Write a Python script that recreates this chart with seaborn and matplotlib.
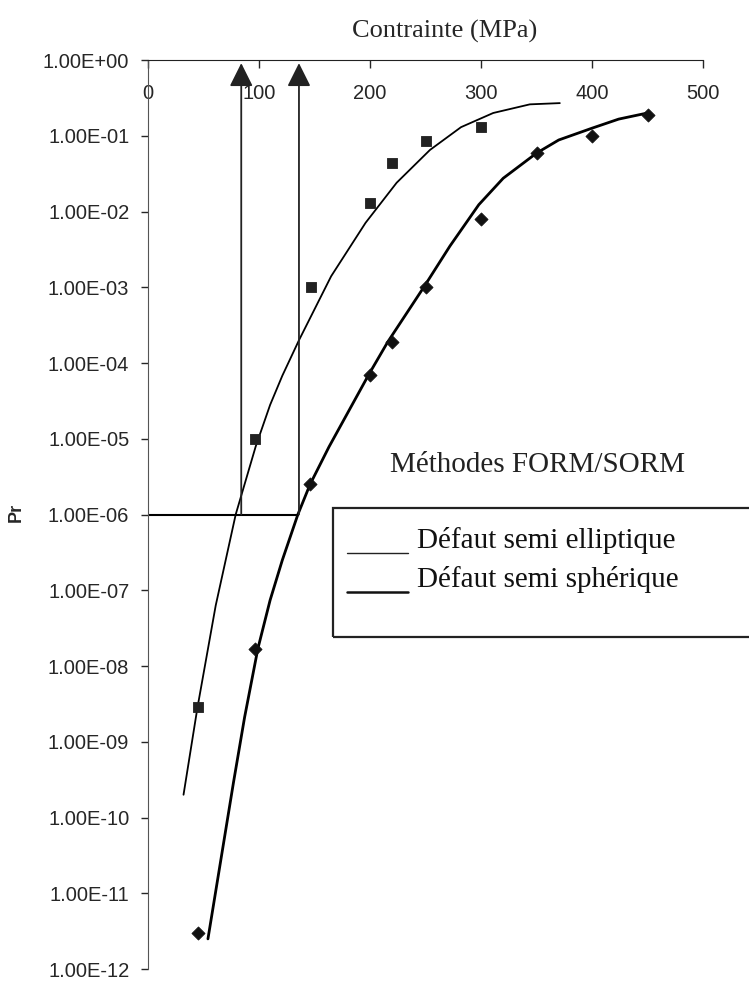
import numpy as np
import pandas as pd
import matplotlib
matplotlib.use('Agg')
import matplotlib.pyplot as plt
from matplotlib.patches import Rectangle
from matplotlib.lines import Line2D
from matplotlib.ticker import FixedLocator, NullLocator
import seaborn as sns

sns.set_style('white')
plt.rcParams['font.family'] = ['Liberation Sans', 'DejaVu Sans']

# measured points (scatter)
stress_ell = [45, 96, 147, 200, 220, 250, 300]
pr_ell = [2.9e-9, 1.0e-5, 1.0e-3, 1.3e-2, 4.4e-2, 8.5e-2, 1.3e-1]
stress_sph = [45, 96, 146, 200, 220, 250, 300, 350, 400, 450]
pr_sph = [3e-12, 1.7e-8, 2.5e-6, 7e-5, 1.9e-4, 1.0e-3, 8e-3, 5.9e-2, 1.0e-1, 1.9e-1]

# FORM/SORM curves
curve_ell_x = [32, 44.5, 61, 79, 97, 110, 121, 136, 165, 196, 224, 254, 282, 311, 344, 371]
curve_ell_pr = [2.0e-10, 2.8e-9, 6.3e-8, 1.0e-6, 7.9e-6, 2.8e-5, 6.8e-5, 2.0e-4, 1.4e-3,
                7.1e-3, 2.4e-2, 6.5e-2, 1.3e-1, 2.0e-1, 2.6e-1, 2.7e-1]
curve_sph_x = [54, 77, 87, 99, 110, 121, 135, 146, 163, 199, 216, 248, 272, 298, 320, 350,
               370, 400, 424, 450]
curve_sph_pr = [2.5e-12, 2.9e-10, 2.1e-9, 1.7e-8, 7.4e-8, 2.5e-7, 1.0e-6, 2.5e-6, 7.8e-6,
                7.1e-5, 1.9e-4, 9.8e-4, 3.5e-3, 1.23e-2, 2.75e-2, 5.9e-2, 8.8e-2, 1.26e-1,
                1.66e-1, 2.0e-1]

# target probability and the stresses read from it
pr_target = 1e-6
arrow_x = [84, 136]
arrow_top = 0.91

yticks = [10.0 ** k for k in range(0, -13, -1)]
xticks = [0, 100, 200, 300, 400, 500]

df_ell = pd.DataFrame({'x': curve_ell_x, 'y': curve_ell_pr})
df_sph = pd.DataFrame({'x': curve_sph_x, 'y': curve_sph_pr})
pts_ell = pd.DataFrame({'x': stress_ell, 'y': pr_ell})
pts_sph = pd.DataFrame({'x': stress_sph, 'y': pr_sph})

fig = plt.figure(figsize=(7.49, 9.81), dpi=100)
ax = fig.add_axes([0.1976, 0.0122, 0.741, 0.9266])
ax.set_yscale('log')

sns.lineplot(data=df_ell, x='x', y='y', ax=ax, color='black', lw=1.3,
             estimator=None, sort=False)
sns.lineplot(data=df_sph, x='x', y='y', ax=ax, color='black', lw=2.0,
             estimator=None, sort=False)
sns.scatterplot(data=pts_ell, x='x', y='y', ax=ax, marker='s', s=60,
                color='#222222', edgecolor='#222222', zorder=5)
sns.scatterplot(data=pts_sph, x='x', y='y', ax=ax, marker='D', s=45,
                color='#111111', edgecolor='#111111', zorder=5)

# threshold line and arrows
ax.hlines(pr_target, 0, arrow_x[1], color='black', lw=1.5)
for xa in arrow_x:
    ax.annotate('', xy=(xa, arrow_top), xytext=(xa, pr_target),
                arrowprops=dict(arrowstyle='-|>,head_length=0.72,head_width=0.36',
                                mutation_scale=20, color='#222222', lw=1.3,
                                shrinkA=0, shrinkB=0))

ax.set_xlim(0, 500)
ax.set_ylim(1e-12, 1e0)

# x axis on top, labels sitting below the line
ax.xaxis.set_ticks_position('top')
ax.xaxis.set_label_position('top')
ax.xaxis.set_major_locator(FixedLocator(xticks))
ax.xaxis.set_minor_locator(NullLocator())
ax.tick_params(axis='x', direction='in', length=6, width=1, pad=-31, labelsize=14.5,
               top=True, bottom=False, labeltop=True, labelbottom=False)
ax.yaxis.set_major_locator(FixedLocator(yticks))
ax.yaxis.set_minor_locator(NullLocator())
ax.set_yticklabels([f'{v:.2E}' for v in yticks])
ax.tick_params(axis='y', direction='out', length=5, width=1, pad=8.5, labelsize=14.5, left=True)

ax.set_xlabel('Contrainte (MPa)', fontsize=19, family='Liberation Serif')
ax.xaxis.set_label_coords(0.535, 1.025)
ax.set_ylabel('Pr', fontsize=13, fontweight='bold')
ax.yaxis.set_label_coords(-0.222, 0.502)

for side in ['right', 'bottom']:
    ax.spines[side].set_visible(False)
ax.spines['left'].set_color('#555555')
ax.spines['top'].set_color('#222222')

# text and legend box
ax.text(0.701, 0.5545, 'Méthodes FORM/SORM', transform=ax.transAxes, ha='center', va='center',
        fontsize=21, family='Liberation Serif', color='#222222')
ax.add_patch(Rectangle((0.333, 0.365), 0.8, 0.142, transform=ax.transAxes, fill=False,
                       edgecolor='#222222', lw=1.6, clip_on=False))
ax.add_line(Line2D([0.3586, 0.4685], [0.4576, 0.4576], transform=ax.transAxes,
                   color='#222222', lw=1.0, clip_on=False))
ax.add_line(Line2D([0.3586, 0.4685], [0.4147, 0.4147], transform=ax.transAxes,
                   color='#111111', lw=1.8, clip_on=False))
ax.text(0.4847, 0.4631, 'Défaut semi elliptique', transform=ax.transAxes, va='baseline',
        fontsize=21, family='Liberation Serif', color='#111111')
ax.text(0.4847, 0.4202, 'Défaut semi sphérique', transform=ax.transAxes, va='baseline',
        fontsize=21, family='Liberation Serif', color='#111111')

fig.savefig('out.png', dpi=100)
